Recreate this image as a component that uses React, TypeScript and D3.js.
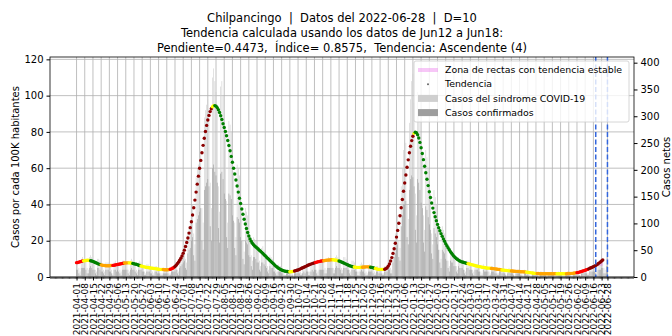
import { useRef, useEffect } from 'react';
import * as d3 from 'd3';

const WIDTH = 672;
const HEIGHT = 336;
const MARGIN = { top: 57, right: 38, bottom: 59, left: 50 };
const DAY_MS = 86400000;
const X_PAD_DAYS = 22.65;

const FIRST_DAY = '2021-04-01';
const LAST_DAY = '2022-06-28';
const TREND_END_DAY = '2022-06-18';

const TITLE_LINES = [
  'Chilpancingo  |  Datos del 2022-06-28  |  D=10',
  'Tendencia calculada usando los datos de Jun12 a Jun18:',
  'Pendiente=0.4473,  Índice= 0.8575,  Tendencia: Ascendente (4)',
];

const LEFT_TICKS = [0, 20, 40, 60, 80, 100, 120];
const RIGHT_TICKS = [0, 50, 100, 150, 200, 250, 300, 350, 400];
const LEFT_MAX = 121.3;
const RIGHT_MAX = 410.6;

// daily values per 100K from 2021-04-01, one row per week (Thu..Wed)
const sindrome = [
  9, 8, 5, 3, 10, 11, 10,
  10, 9, 5, 4, 11, 12, 11,
  9, 8, 4, 3, 10, 10, 9,
  7, 7, 4, 3, 8, 8, 8,
  7, 6, 4, 2, 8, 9, 7,
  8, 7, 4, 3, 9, 9, 9,
  9, 8, 4, 3, 9, 10, 9,
  8, 7, 4, 3, 8, 9, 8,
  6, 6, 3, 2, 7, 7, 6,
  5, 5, 3, 2, 6, 6, 5,
  5, 4, 2, 2, 5, 5, 5,
  5, 5, 2, 2, 6, 6, 6,
  7, 8, 4, 3, 10, 12, 13,
  16, 18, 10, 8, 25, 28, 30,
  38, 40, 24, 18, 55, 60, 62,
  66, 70, 38, 30, 88, 92, 95,
  98, 92, 52, 38, 110, 115, 108,
  102, 95, 50, 36, 105, 108, 100,
  85, 80, 42, 30, 86, 84, 80,
  64, 58, 30, 22, 62, 60, 56,
  42, 38, 20, 14, 38, 36, 34,
  24, 22, 12, 9, 22, 21, 20,
  17, 16, 9, 6, 16, 17, 15,
  12, 11, 6, 4, 12, 11, 10,
  7, 6, 4, 3, 7, 6, 6,
  4, 4, 2, 1, 4, 4, 3,
  3, 3, 2, 1, 4, 4, 4,
  5, 5, 3, 2, 5, 6, 5,
  6, 6, 3, 3, 7, 8, 7,
  8, 8, 4, 3, 9, 9, 9,
  9, 9, 5, 4, 10, 11, 10,
  10, 10, 5, 4, 11, 12, 11,
  10, 9, 5, 4, 11, 11, 10,
  9, 8, 4, 3, 9, 9, 8,
  7, 6, 3, 3, 7, 8, 7,
  6, 5, 3, 2, 6, 7, 6,
  6, 5, 3, 2, 6, 6, 5,
  5, 5, 2, 2, 6, 6, 7,
  8, 9, 5, 4, 15, 20, 24,
  30, 34, 20, 16, 50, 60, 70,
  72, 74, 40, 32, 85, 98, 108,
  112, 96, 46, 34, 102, 92, 86,
  74, 68, 34, 26, 70, 66, 60,
  52, 46, 24, 18, 48, 44, 40,
  32, 28, 15, 10, 28, 26, 24,
  18, 16, 9, 6, 16, 15, 14,
  12, 11, 6, 4, 11, 10, 10,
  9, 8, 4, 3, 9, 9, 8,
  7, 7, 4, 3, 7, 7, 7,
  6, 6, 3, 2, 7, 6, 6,
  5, 5, 3, 2, 6, 6, 5,
  5, 4, 2, 2, 5, 5, 5,
  4, 4, 2, 1, 4, 5, 4,
  4, 3, 2, 1, 4, 4, 4,
  3, 3, 2, 1, 4, 3, 3,
  3, 3, 1, 1, 3, 3, 3,
  2, 2, 1, 1, 3, 3, 2,
  2, 2, 1, 1, 2, 2, 2,
  2, 2, 1, 1, 2, 3, 2,
  2, 2, 1, 1, 2, 2, 2,
  2, 2, 1, 1, 3, 2, 2,
  3, 3, 1, 1, 3, 4, 3,
  4, 4, 2, 2, 5, 5, 5,
  6, 6, 3, 3, 8, 8, 8,
  9, 9, 5, 4, 11, 10,
];

const confirmados = [
  4, 4, 2, 1, 5, 5, 5,
  5, 4, 2, 2, 5, 6, 5,
  4, 4, 2, 1, 5, 5, 4,
  3, 3, 2, 1, 4, 4, 4,
  3, 3, 2, 1, 4, 4, 3,
  4, 3, 2, 1, 4, 4, 4,
  4, 4, 2, 1, 4, 5, 4,
  4, 3, 2, 1, 4, 4, 4,
  3, 3, 1, 1, 3, 3, 3,
  2, 2, 1, 1, 3, 3, 2,
  2, 2, 1, 1, 2, 2, 2,
  2, 2, 1, 1, 3, 3, 3,
  3, 4, 2, 1, 5, 6, 7,
  8, 9, 5, 4, 13, 15, 16,
  20, 22, 12, 9, 30, 32, 34,
  36, 38, 20, 15, 48, 50, 52,
  54, 50, 28, 20, 60, 62, 58,
  56, 52, 27, 19, 57, 58, 54,
  46, 43, 22, 16, 46, 45, 43,
  34, 31, 16, 12, 33, 32, 30,
  22, 20, 10, 7, 20, 19, 18,
  12, 11, 6, 4, 11, 11, 10,
  8, 8, 4, 3, 8, 8, 7,
  6, 5, 3, 2, 6, 5, 5,
  3, 3, 2, 1, 3, 3, 3,
  2, 2, 1, 1, 2, 2, 1,
  1, 1, 1, 0, 2, 2, 2,
  2, 2, 1, 1, 2, 3, 2,
  3, 3, 1, 1, 3, 4, 3,
  4, 4, 2, 1, 4, 4, 4,
  4, 4, 2, 2, 5, 5, 5,
  5, 5, 2, 2, 5, 6, 5,
  5, 4, 2, 2, 5, 5, 5,
  4, 4, 2, 1, 4, 4, 4,
  3, 3, 1, 1, 3, 4, 3,
  3, 2, 1, 1, 3, 3, 3,
  3, 2, 1, 1, 3, 3, 2,
  2, 2, 1, 1, 3, 3, 3,
  4, 4, 2, 2, 8, 11, 13,
  16, 18, 11, 9, 28, 34, 40,
  40, 42, 22, 18, 48, 54, 56,
  55, 50, 26, 19, 54, 52, 48,
  41, 38, 19, 14, 39, 37, 33,
  29, 26, 13, 10, 27, 24, 22,
  18, 15, 8, 5, 15, 14, 13,
  10, 9, 5, 3, 9, 8, 8,
  6, 6, 3, 2, 6, 5, 5,
  5, 4, 2, 1, 5, 5, 4,
  4, 4, 2, 1, 4, 4, 4,
  3, 3, 1, 1, 4, 3, 3,
  3, 3, 1, 1, 3, 3, 3,
  2, 2, 1, 1, 3, 3, 2,
  2, 2, 1, 0, 2, 3, 2,
  2, 2, 1, 0, 2, 2, 2,
  2, 1, 1, 0, 2, 2, 1,
  1, 1, 0, 0, 2, 1, 1,
  1, 1, 0, 0, 1, 1, 1,
  1, 1, 0, 0, 1, 1, 1,
  1, 1, 0, 0, 1, 1, 1,
  1, 1, 0, 0, 1, 1, 1,
  1, 1, 0, 0, 1, 1, 1,
  1, 1, 1, 0, 2, 2, 2,
  2, 2, 1, 1, 3, 3, 3,
  3, 3, 2, 1, 4, 4, 4,
  5, 5, 2, 2, 6, 6,
];

// smoothed trend per 100K, daily from 2021-04-01
const tendencia = [
  7.9, 8.0, 8.2, 8.4, 8.6, 8.8, 8.9,
  9.0, 9.1, 9.2, 9.2, 9.1, 9.0, 8.8,
  8.6, 8.3, 8.0, 7.7, 7.4, 7.1, 6.9,
  6.7, 6.5, 6.4, 6.3, 6.2, 6.2, 6.2,
  6.2, 6.3, 6.3, 6.4, 6.5, 6.6, 6.8,
  6.9, 7.0, 7.2, 7.3, 7.5, 7.6, 7.7,
  7.7, 7.8, 7.8, 7.8, 7.7, 7.6, 7.5,
  7.3, 7.1, 7.0, 6.8, 6.5, 6.3, 6.1,
  5.9, 5.7, 5.6, 5.4, 5.3, 5.2, 5.1,
  5.0, 4.9, 4.8, 4.7, 4.6, 4.5, 4.4,
  4.3, 4.2, 4.2, 4.1, 4.1, 4.0, 4.0,
  4.0, 4.0, 4.1, 4.3, 4.5, 4.8, 5.2,
  5.8, 6.5, 7.3, 8.2, 9.2, 10.3, 11.6,
  13.1, 14.8, 16.8, 19.0, 21.5, 24.2, 27.2,
  30.5, 34.2, 38.2, 42.4, 46.8, 51.2, 55.6,
  60.0, 64.3, 68.5, 72.6, 76.5, 80.2, 83.6,
  86.6, 89.1, 91.2, 92.8, 93.9, 94.5, 94.5,
  94.2, 93.4, 92.2, 90.7, 88.9, 86.8, 84.5,
  82.4, 80.2, 77.9, 75.3, 72.5, 69.6, 66.5,
  63.3, 60.0, 56.8, 53.5, 50.2, 46.8, 43.4,
  40.5, 37.5, 34.6, 31.8, 29.2, 26.7, 24.5,
  22.6, 21.0, 19.7, 18.6, 17.8, 17.1, 16.5,
  16.0, 15.4, 14.8, 14.2, 13.6, 13.0, 12.3,
  11.7, 11.0, 10.4, 9.8, 9.1, 8.5, 7.9,
  7.3, 6.6, 6.0, 5.5, 5.0, 4.6, 4.2,
  3.9, 3.6, 3.4, 3.2, 3.1, 3.0, 2.9,
  2.9, 2.9, 3.0, 3.1, 3.3, 3.5, 3.7,
  3.9, 4.2, 4.5, 4.8, 5.1, 5.4, 5.7,
  6.0, 6.3, 6.6, 6.9, 7.1, 7.4, 7.6,
  7.8, 8.0, 8.2, 8.4, 8.5, 8.7, 8.8,
  8.9, 9.0, 9.1, 9.2, 9.3, 9.4, 9.4,
  9.5, 9.5, 9.5, 9.4, 9.3, 9.2, 9.0,
  8.8, 8.6, 8.3, 8.0, 7.7, 7.4, 7.1,
  6.8, 6.5, 6.2, 6.0, 5.8, 5.6, 5.5,
  5.4, 5.3, 5.3, 5.3, 5.3, 5.4, 5.4,
  5.5, 5.5, 5.6, 5.6, 5.6, 5.5, 5.4,
  5.3, 5.1, 4.9, 4.7, 4.5, 4.3, 4.2,
  4.2, 4.2, 4.2, 4.2, 4.3, 4.6, 5.1,
  6.0, 7.2, 8.8, 10.7, 13.0, 15.6, 18.6,
  22.0, 25.7, 29.6, 33.8, 38.2, 42.7, 47.3,
  51.8, 56.2, 60.5, 64.6, 68.5, 72.1, 75.2,
  77.6, 79.2, 79.8, 79.5, 78.4, 76.6, 74.2,
  71.3, 68.1, 64.7, 61.1, 57.5, 53.9, 50.4,
  47.0, 43.8, 40.8, 38.0, 35.5, 33.2, 31.0,
  29.0, 27.2, 25.5, 23.9, 22.4, 21.0, 19.7,
  18.4, 17.2, 16.1, 15.0, 14.0, 13.1, 12.3,
  11.5, 10.8, 10.2, 9.7, 9.2, 8.8, 8.5,
  8.3, 8.1, 7.9, 7.7, 7.5, 7.4, 7.2,
  7.0, 6.8, 6.7, 6.5, 6.3, 6.1, 6.0,
  5.8, 5.7, 5.6, 5.4, 5.3, 5.2, 5.1,
  5.0, 4.9, 4.9, 4.8, 4.7, 4.6, 4.6,
  4.5, 4.4, 4.3, 4.2, 4.1, 4.0, 3.9,
  3.8, 3.7, 3.6, 3.6, 3.5, 3.4, 3.4,
  3.3, 3.3, 3.2, 3.2, 3.1, 3.1, 3.0,
  3.0, 2.9, 2.9, 2.9, 2.8, 2.8, 2.7,
  2.6, 2.5, 2.4, 2.3, 2.2, 2.1, 2.0,
  2.0, 1.9, 1.9, 1.8, 1.8, 1.8, 1.8,
  1.8, 1.8, 1.8, 1.8, 1.8, 1.8, 1.8,
  1.8, 1.8, 1.8, 1.8, 1.8, 1.8, 1.8,
  1.8, 1.8, 1.8, 1.8, 1.8, 1.8, 1.9,
  1.9, 1.9, 2.0, 2.0, 2.1, 2.2, 2.3,
  2.4, 2.5, 2.7, 2.9, 3.1, 3.3, 3.5,
  3.7, 4.0, 4.2, 4.5, 4.8, 5.1, 5.4,
  5.7, 6.0, 6.4, 6.8, 7.3, 7.8, 8.3,
  8.8, 9.4,
];

// trend class of each day, as [class, number of days]
const tendenciaRachas: [string, number][] = [
  ['R', 6], ['Y', 6], ['G', 9], ['O', 10], ['R', 10], ['O', 4], ['Y', 3], ['G', 7],
  ['Y', 19], ['O', 6], ['R', 4], ['D', 32], ['Y', 2], ['G', 64],
  ['Y', 4], ['D', 18], ['R', 7], ['O', 8], ['Y', 5], ['G', 13], ['Y', 7], ['O', 7],
  ['G', 4], ['Y', 8],
  ['D', 25], ['Y', 1], ['G', 45], ['Y', 20], ['O', 9], ['Y', 8], ['O', 13], ['Y', 9],
  ['O', 17], ['Y', 8], ['O', 9], ['R', 10], ['D', 13],
];

const TREND_COLORS: Record<string, string> = {
  R: '#ff0000',
  Y: '#ffff00',
  G: '#008000',
  O: '#ffa500',
  D: '#8b0000',
};

// stable-trend zone after the last day used for the fit
const zonaDias = ['2022-06-18', '2022-06-24'];
const zonaBaja = [6.4, 6.1];
const zonaAlta = [6.4, 8.9];

const LEGEND_ITEMS = [
  'Zona de rectas con tendencia estable',
  'Tendencia',
  'Casos del sindrome COVID-19',
  'Casos confirmados',
];

const FONT = 'DejaVu Sans';
const GRID = '#b0b0b0';
const LIGHT_BAR = '#cfcfcf';
const DARK_BAR = '#9d9d9d';
const ZONE = '#ee82ee';
const BLUE = '#3366dd';

export default function App() {
  const svgRef = useRef<SVGSVGElement>(null);

  useEffect(() => {
    if (!svgRef.current) return;
    const svg = d3.select(svgRef.current);
    svg.selectAll('*').remove();

    const parse = d3.utcParse('%Y-%m-%d');
    const first = parse(FIRST_DAY)!;
    const last = parse(LAST_DAY)!;
    const dayDate = (i: number) => d3.utcDay.offset(first, i);

    const x = d3.scaleUtc()
      .domain([new Date(+first - X_PAD_DAYS * DAY_MS), new Date(+last + X_PAD_DAYS * DAY_MS)])
      .range([MARGIN.left, WIDTH - MARGIN.right]);
    const y = d3.scaleLinear().domain([0, LEFT_MAX]).range([HEIGHT - MARGIN.bottom, MARGIN.top]);
    const y2 = d3.scaleLinear().domain([0, RIGHT_MAX]).range([HEIGHT - MARGIN.bottom, MARGIN.top]);

    const x0 = MARGIN.left;
    const x1 = WIDTH - MARGIN.right;
    const yTop = MARGIN.top;
    const yBot = HEIGHT - MARGIN.bottom;

    const majors = [...d3.utcThursday.range(first, d3.utcDay.offset(last, 1)), last];

    // grid
    const grid = svg.append('g').attr('stroke', GRID).attr('stroke-width', 0.8);
    grid.selectAll('line.v').data(majors).join('line')
      .attr('x1', d => x(d)).attr('x2', d => x(d))
      .attr('y1', yTop).attr('y2', yBot);
    grid.selectAll('line.h').data(LEFT_TICKS).join('line')
      .attr('class', 'h')
      .attr('x1', x0).attr('x2', x1)
      .attr('y1', d => y(d)).attr('y2', d => y(d));

    // bars
    const bw = 0.6;
    svg.append('g').selectAll('rect').data(sindrome).join('rect')
      .attr('x', (_, i) => x(dayDate(i)) - bw / 2)
      .attr('width', bw)
      .attr('y', d => y(d))
      .attr('height', d => y(0) - y(d))
      .attr('fill', LIGHT_BAR);
    svg.append('g').selectAll('rect').data(confirmados).join('rect')
      .attr('x', (_, i) => x(dayDate(i)) - bw / 2)
      .attr('width', bw)
      .attr('y', d => y(d))
      .attr('height', d => y(0) - y(d))
      .attr('fill', DARK_BAR);

    // stable zone
    const zona = zonaDias.map((d, i) => ({ date: parse(d)!, lo: zonaBaja[i], hi: zonaAlta[i] }));
    const area = d3.area<{ date: Date; lo: number; hi: number }>()
      .x(d => x(d.date)).y0(d => y(d.lo)).y1(d => y(d.hi));
    svg.append('path').datum(zona).attr('d', area).attr('fill', ZONE).attr('fill-opacity', 0.45);

    // trend dots
    const colorOf = tendenciaRachas.flatMap(([c, n]) => Array(n).fill(c) as string[]);
    svg.append('g').selectAll('circle').data(tendencia).join('circle')
      .attr('cx', (_, i) => x(dayDate(i)))
      .attr('cy', d => y(d))
      .attr('r', 1.7)
      .attr('fill', (_, i) => TREND_COLORS[colorOf[i]]);

    // vertical markers
    svg.append('g').selectAll('line').data([parse(TREND_END_DAY)!, last]).join('line')
      .attr('x1', d => x(d)).attr('x2', d => x(d))
      .attr('y1', yTop).attr('y2', yBot)
      .attr('stroke', BLUE).attr('stroke-width', 1.5).attr('stroke-dasharray', '5,2.5');

    // x axis
    const gx = svg.append('g')
      .attr('transform', `translate(0,${yBot})`)
      .call(d3.axisBottom(x).tickValues(majors).tickFormat(d => d3.utcFormat('%Y-%m-%d')(d as Date)).tickSize(3.5));
    gx.select('.domain').remove();
    gx.attr('font-family', FONT).attr('font-size', 9);
    gx.selectAll('text')
      .attr('transform', 'rotate(-90)')
      .attr('x', -6).attr('y', 0).attr('dy', '0.35em')
      .attr('text-anchor', 'end')
      .attr('fill', '#000');
    gx.append('g').selectAll('line')
      .data(d3.utcDay.range(x.domain()[0], x.domain()[1]))
      .join('line')
      .attr('x1', d => x(d)).attr('x2', d => x(d))
      .attr('y1', 0).attr('y2', 2)
      .attr('stroke', '#000').attr('stroke-width', 0.6);

    // y axes
    const gy = svg.append('g')
      .attr('transform', `translate(${x0},0)`)
      .call(d3.axisLeft(y).tickValues(LEFT_TICKS).tickSize(3.5).tickPadding(3));
    gy.select('.domain').remove();
    gy.attr('font-family', FONT).attr('font-size', 10);
    gy.selectAll('text').attr('fill', '#000');

    const gy2 = svg.append('g')
      .attr('transform', `translate(${x1},0)`)
      .call(d3.axisRight(y2).tickValues(RIGHT_TICKS).tickSize(3.5).tickPadding(3));
    gy2.select('.domain').remove();
    gy2.attr('font-family', FONT).attr('font-size', 10);
    gy2.selectAll('text').attr('fill', '#000');

    // frame
    svg.append('rect')
      .attr('x', x0).attr('y', yTop).attr('width', x1 - x0).attr('height', yBot - yTop)
      .attr('fill', 'none').attr('stroke', '#000').attr('stroke-width', 0.8);

    // axis titles
    svg.append('text')
      .attr('transform', `translate(15,${(yTop + yBot) / 2}) rotate(-90)`)
      .attr('text-anchor', 'middle').attr('dy', '0.35em')
      .attr('font-family', FONT).attr('font-size', 10)
      .text('Casos por cada 100K habitantes');
    svg.append('text')
      .attr('transform', `translate(666,${(yTop + yBot) / 2}) rotate(-90)`)
      .attr('text-anchor', 'middle').attr('dy', '0.35em')
      .attr('font-family', FONT).attr('font-size', 10)
      .text('Casos netos');

    // title
    svg.append('g').selectAll('text').data(TITLE_LINES).join('text')
      .attr('x', (x0 + x1) / 2)
      .attr('y', (_, i) => 22 + i * 15)
      .attr('text-anchor', 'middle')
      .attr('font-family', FONT).attr('font-size', 11.5)
      .style('white-space', 'pre')
      .text(d => d);

    // legend
    const lg = svg.append('g').attr('transform', 'translate(414,61)');
    lg.append('rect')
      .attr('width', 215).attr('height', 61).attr('rx', 2)
      .attr('fill', '#fff').attr('fill-opacity', 0.8)
      .attr('stroke', '#cccccc').attr('stroke-width', 0.8);
    const rowY = (i: number) => 9 + i * 14.2;
    lg.append('line')
      .attr('x1', 4).attr('x2', 24).attr('y1', rowY(0)).attr('y2', rowY(0))
      .attr('stroke', ZONE).attr('stroke-opacity', 0.45).attr('stroke-width', 4);
    lg.append('circle').attr('cx', 14).attr('cy', rowY(1)).attr('r', 1).attr('fill', '#666');
    lg.append('rect').attr('x', 4).attr('y', rowY(2) - 3.5).attr('width', 20).attr('height', 7).attr('fill', LIGHT_BAR);
    lg.append('rect').attr('x', 4).attr('y', rowY(3) - 3.5).attr('width', 20).attr('height', 7).attr('fill', DARK_BAR);
    lg.selectAll('text.item').data(LEGEND_ITEMS).join('text')
      .attr('x', 31)
      .attr('y', (_, i) => rowY(i))
      .attr('dy', '0.35em')
      .attr('font-family', FONT).attr('font-size', 9.4)
      .text(d => d);
  }, []);

  return (
    <svg
      ref={svgRef}
      width={WIDTH}
      height={HEIGHT}
      style={{ position: 'absolute', left: 0, top: 0, background: '#fff' }}
    />
  );
}
